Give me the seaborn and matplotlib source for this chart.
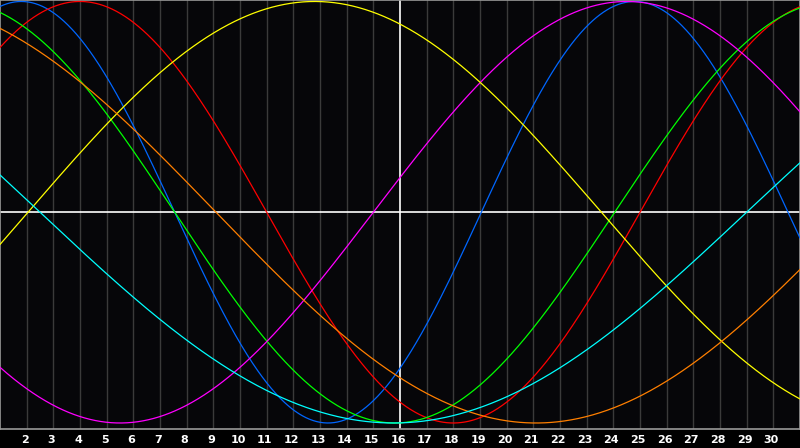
import numpy as np
import pandas as pd
import matplotlib
matplotlib.use("Agg")
import matplotlib.pyplot as plt
import matplotlib.transforms as mtransforms
import seaborn as sns

# Biorhythm cycles: name, period (days), day of peak, colour
cycles = ["Physical", "Emotional", "Intellectual", "Intuitive", "Aesthetic", "Awareness", "Spiritual"]
periods = [23, 28, 33, 38, 43, 48, 53]
peak_days = [1.8, 4.0, -0.7, 24.5, 12.8, -2.9, -10.75]
colors = ["#0066ff", "#ff0000", "#00ff00", "#ff00ff", "#ffff00", "#ff7f00", "#00ffff"]

day_ticks = list(range(2, 31))
today = 16
first_day, last_day = 1, 31

rows = []
days = np.linspace(first_day, last_day, 901)
for name, p, pk in zip(cycles, periods, peak_days):
    vals = np.cos(2 * np.pi * (days - pk) / p)
    rows.append(pd.DataFrame({"day": days, "value": vals, "cycle": name}))
df = pd.concat(rows, ignore_index=True)

sns.set_style("dark")
fig = plt.figure(figsize=(8, 4.48), dpi=100, facecolor="#000000")
ax = fig.add_axes([0, 1 - 429 / 448, 1, 429 / 448])
ax.set_facecolor("#060609")

for d in day_ticks:
    if d != today:
        ax.axvline(d, color="#3a3a3a", lw=1.0, zorder=1)
ax.axvline(today, color="#ffffff", lw=1.2, zorder=1)
ax.axhline(0, color="#ffffff", lw=1.2, zorder=1)

sns.lineplot(data=df, x="day", y="value", hue="cycle", hue_order=cycles,
             palette=dict(zip(cycles, colors)), estimator=None, legend=False,
             lw=0.9, ax=ax, zorder=3)

ax.set_xlim(first_day, last_day)
ax.set_ylim(-1.0285, 1.007)
ax.grid(False)
ax.set_xlabel("")
ax.set_ylabel("")
ax.set_yticks([])
ax.set_xticks(day_ticks)
ax.set_xticklabels([str(d) for d in day_ticks], color="white",
                   fontweight="bold", fontsize=8, family="DejaVu Sans")
ax.tick_params(axis="x", length=0, pad=4)
shift = mtransforms.ScaledTranslation(-2 / 100, 0, fig.dpi_scale_trans)
for lbl in ax.get_xticklabels():
    lbl.set_transform(lbl.get_transform() + shift)
for s in ax.spines.values():
    s.set_visible(True)
    s.set_color("#999999")
    s.set_linewidth(1.2)

fig.savefig("out.png", dpi=100, facecolor=fig.get_facecolor())
